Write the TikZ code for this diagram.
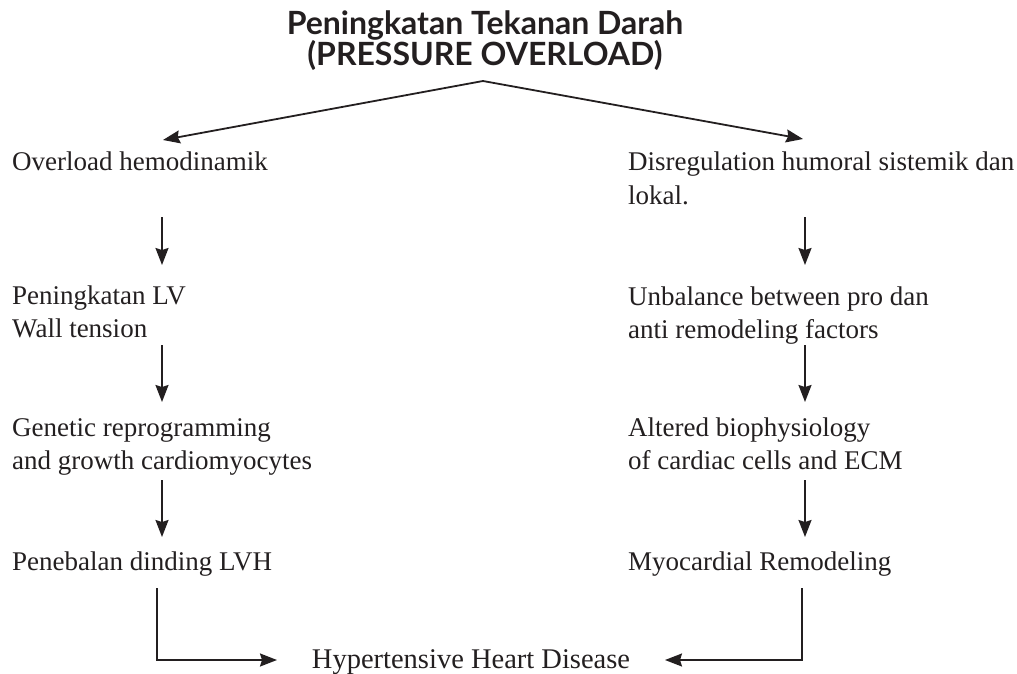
\documentclass[tikz,border=0pt]{standalone}
\usepackage{fontspec}
\setmainfont{Liberation Serif}
\newfontfamily\titlefont{Lato}
\usetikzlibrary{arrows.meta,calc}
\definecolor{ink}{RGB}{35,31,32}
\begin{document}
\begin{tikzpicture}[x=1pt,y=-1pt,
  txt/.style={font=\fontsize{27}{33}\selectfont, inner sep=0pt, align=left, anchor=base west, text=ink},
  arr/.style={line width=1.8pt, draw=ink, -{Stealth[length=17pt,width=13pt,inset=2pt]}},
  elbow/.style={arr, rounded corners=0pt},
  ttl/.style={font=\titlefont\bfseries\fontsize{32}{30}\selectfont, align=center, inner sep=0pt, anchor=base, text=ink}]
\useasboundingbox (0,0) rectangle (1017,674);

% title (base anchor = last line)
\node[ttl] (T) at (485,66) {Peningkatan Tekanan Darah\\(PRESSURE OVERLOAD)};
\coordinate (apex) at (483,81);

% left column (base anchor = last line)
\node[txt] (L1) at (12,170) {Overload hemodinamik};
\node[txt] (L2) at (12,337) {Peningkatan LV\\Wall tension};
\node[txt] (L3) at (12,469) {Genetic reprogramming\\and growth cardiomyocytes};
\node[txt] (L4) at (12,570) {Penebalan dinding LVH};

% right column
\node[txt] (R1) at (628,204) {Disregulation humoral sistemik dan\\lokal.};
\node[txt] (R2) at (628,338) {Unbalance between pro dan\\anti remodeling factors};
\node[txt] (R3) at (628,469) {Altered biophysiology\\of cardiac cells and ECM};
\node[txt] (R4) at (628,570) {Myocardial Remodeling};

% bottom
\node[txt, anchor=base, font=\fontsize{28.5}{33}\selectfont] (H) at (471,668) {Hypertensive Heart Disease};

% connector ends
\coordinate (tL) at (163,140);
\coordinate (tR) at (803,139);
\coordinate (colL) at (162,0);
\coordinate (colR) at (805,0);
\coordinate (eL) at (157,588);
\coordinate (eR) at (802,588);
\coordinate (hL) at (277,660);
\coordinate (hR) at (665,660);

\draw[arr] (apex) -- (tL);
\draw[arr] (apex) -- (tR);

\draw[arr] (colL |- 0,217) -- (colL |- 0,265);
\draw[arr] (colL |- 0,345) -- (colL |- 0,402);
\draw[arr] (colL |- 0,480) -- (colL |- 0,537);
\draw[arr] (colR |- 0,217) -- (colR |- 0,265);
\draw[arr] (colR |- 0,345) -- (colR |- 0,402);
\draw[arr] (colR |- 0,480) -- (colR |- 0,537);

\draw[elbow] (eL) |- (hL);
\draw[elbow] (eR) |- (hR);
\end{tikzpicture}
\end{document}
